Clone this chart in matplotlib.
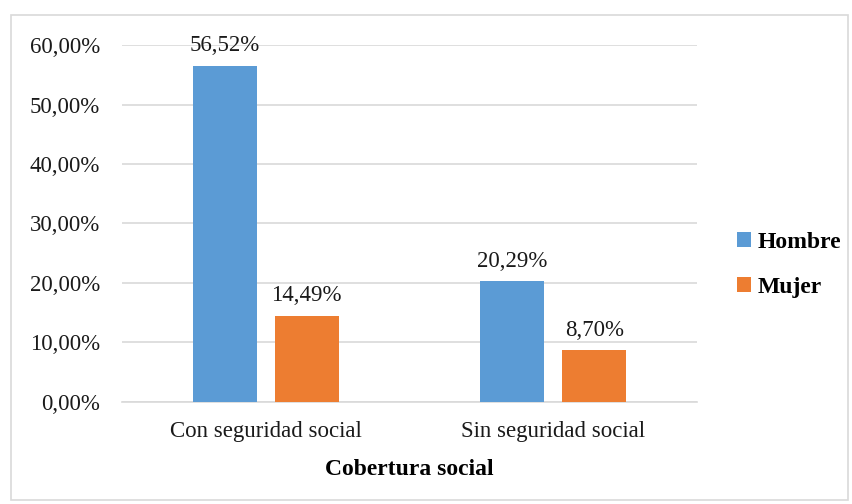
import matplotlib.pyplot as plt
from matplotlib.patches import Rectangle
import numpy as np

categorias = ['Con seguridad social', 'Sin seguridad social']
hombre = [56.52, 20.29]
mujer = [14.49, 8.70]
series = ['Hombre', 'Mujer']
COLORS = ['#5B9BD5', '#ED7D31']

plt.rcParams['font.family'] = ['Liberation Serif', 'DejaVu Serif']

fig = plt.figure(figsize=(8.53, 5.04), dpi=100)
# marco gris alrededor de todo el grafico
fig.patches.append(Rectangle((11 / 853, 4 / 504), 837 / 853, 485 / 504,
                             transform=fig.transFigure, fill=False,
                             edgecolor='#D9D9D9', linewidth=1.2))
ax = fig.add_axes([0.143, 0.2024, 0.674, 0.7083])

x = np.arange(len(categorias))
ancho = 0.2226
desp = 0.1426
for vals, nombre, color, signo in [(hombre, series[0], COLORS[0], -1),
                                   (mujer, series[1], COLORS[1], 1)]:
    barras = ax.bar(x + signo * desp, vals, ancho, color=color, label=nombre, zorder=3)
    for b, v in zip(barras, vals):
        ax.annotate(f'{v:.2f}%'.replace('.', ','),
                    (b.get_x() + b.get_width() / 2, v),
                    xytext=(0, 7), textcoords='offset points',
                    ha='center', va='bottom', fontsize=16.5, color='#1a1a1a')

ax.set_xlim(-0.5, 1.5)
ax.set_ylim(0, 60)
ax.set_yticks(np.arange(0, 61, 10))
ax.set_yticklabels([f'{t:.2f}%'.replace('.', ',') for t in np.arange(0, 61, 10)])
ax.set_xticks(x)
ax.set_xticklabels(categorias)
ax.tick_params(axis='y', length=0, pad=16, labelsize=16.5, labelcolor='#1a1a1a')
ax.tick_params(axis='x', length=0, pad=14, labelsize=16.5, labelcolor='#1a1a1a')
ax.grid(axis='y', color='#D9D9D9', linewidth=1.2, zorder=0)
for lado in ['top', 'right', 'left']:
    ax.spines[lado].set_visible(False)
ax.spines['bottom'].set_color('#D9D9D9')
ax.spines['bottom'].set_linewidth(1.2)
ax.set_xlabel('Cobertura social', fontsize=17, fontweight='bold', labelpad=12)

ax.legend(loc='center left', bbox_to_anchor=(1.032, 0.384), frameon=False,
          prop={'size': 17, 'weight': 'bold'}, handlelength=0.6, handleheight=0.6,
          handletextpad=0.3, labelspacing=1.0)

fig.savefig('out.png', dpi=100)
